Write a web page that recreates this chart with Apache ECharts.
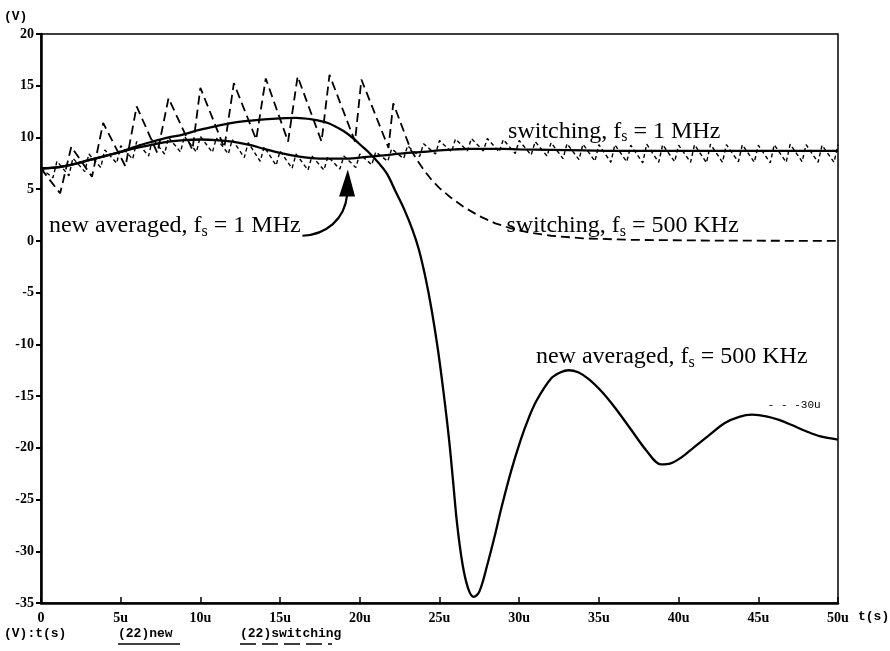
<!DOCTYPE html>
<html>
<head>
<meta charset="utf-8">
<script src="https://cdn.jsdelivr.net/npm/echarts@6/dist/echarts.min.js"></script>
<style>
  html, body { margin: 0; padding: 0; background: #fff; }
  #c { width: 890px; height: 651px; }
</style>
</head>
<body>
<div id="c"></div>
<script>
// Time in microseconds, voltage in volts.
const xTickLabels = ['0', '5u', '10u', '15u', '20u', '25u', '30u', '35u', '40u', '45u', '50u'];
const yTickLabels = ['20', '15', '10', '5', '0', '-5', '-10', '-15', '-20', '-25', '-30', '-35'];

// new averaged model, fs = 1 MHz
const avg1Time = [0, 1, 2, 3, 4, 5, 6, 7, 8, 9, 10, 11, 12, 13, 14, 15, 16, 17, 18, 19, 20, 21, 22, 23, 24, 25, 26, 27, 28, 29, 30, 32, 34, 36, 38, 40, 42, 44, 46, 48, 50];
const avg1Volt = [7.0, 7.1, 7.4, 7.8, 8.2, 8.6, 9.0, 9.3, 9.6, 9.75, 9.8, 9.75, 9.6, 9.3, 8.9, 8.5, 8.2, 8.0, 7.95, 7.95, 8.05, 8.2, 8.35, 8.5, 8.6, 8.75, 8.85, 8.9, 8.9, 8.9, 8.85, 8.8, 8.75, 8.7, 8.7, 8.7, 8.7, 8.7, 8.7, 8.7, 8.7];

// new averaged model, fs = 500 KHz
const avg500Time = [0, 1, 2, 3, 4, 5, 6, 7, 8, 8.7, 10, 11, 12, 13, 14, 15, 16, 17, 18, 19, 19.6, 20.1, 20.6, 21.2, 21.7, 22.3, 22.8, 23.3, 23.7, 24.1, 24.5, 24.9, 25.25, 25.6, 25.85, 26.1, 26.45, 26.8, 27.15, 27.5, 28.0, 28.5, 28.9, 29.5, 30.1, 30.6, 31.1, 32.0, 32.6, 33.1, 33.7, 34.4, 35.2, 36.0, 37.0, 38.0, 38.9, 39.5, 40.2, 41.0, 41.9, 42.9, 43.8, 44.6, 45.5, 46.3, 47.1, 48.0, 48.9, 50];
const avg500Volt = [7.0, 7.1, 7.4, 7.8, 8.2, 8.6, 9.15, 9.6, 10.0, 10.2, 10.75, 11.1, 11.4, 11.6, 11.75, 11.85, 11.9, 11.75, 11.4, 10.6, 9.9, 9.2, 8.5, 7.5, 6.5, 4.6, 3.0, 1.1, -0.8, -3.4, -6.6, -10.5, -14.6, -19.2, -23.2, -27.3, -31.3, -33.6, -34.4, -33.9, -31.3, -28.3, -25.7, -22.2, -19.2, -17.1, -15.4, -13.3, -12.7, -12.5, -12.7, -13.4, -14.6, -16.1, -18.2, -20.3, -21.6, -21.5, -20.9, -19.9, -18.8, -17.6, -17.0, -16.8, -16.95, -17.3, -17.8, -18.4, -18.9, -19.2];

// switching model, fs = 500 KHz
const sw500Time = [0, 1.2, 1.9, 3.2, 3.9, 5.3, 6.0, 7.3, 8.0, 9.5, 10.0, 11.5, 12.1, 13.5, 14.1, 15.5, 16.1, 17.6, 18.1, 19.7, 20.1, 21.8, 22.1, 23.2, 23.6, 24.0, 24.5, 25.0, 25.7, 26.5, 27.5, 28.5, 29.5, 30.5, 32.0, 34.0, 37.0, 42.0, 50.0];
const sw500Volt = [7.0, 4.6, 9.1, 6.2, 11.4, 7.2, 13.0, 8.5, 13.8, 8.8, 14.8, 9.0, 15.25, 9.8, 15.7, 9.6, 15.9, 9.6, 16.05, 9.6, 15.6, 9.0, 13.3, 8.8, 7.8, 6.9, 5.9, 5.1, 4.2, 3.3, 2.4, 1.7, 1.2, 0.85, 0.5, 0.25, 0.1, 0.03, 0.0];

// switching model, fs = 1 MHz
const sw1Time = [0, 0.75, 1, 1.75, 2, 2.75, 3, 3.75, 4, 4.75, 5, 5.75, 6, 6.75, 7, 7.75, 8, 8.75, 9, 9.75, 10,
  10.75, 11, 11.75, 12, 12.75, 13, 13.75, 14, 14.75, 15, 15.75, 16, 16.75, 17, 17.75, 18, 18.75, 19, 19.75, 20,
  20.75, 21, 21.75, 22, 22.75, 23, 23.75, 24, 24.75, 25, 25.75, 26, 26.75, 27, 27.75, 28, 28.75, 29, 29.75, 30,
  30.75, 31, 31.75, 32, 32.75, 33, 33.75, 34, 34.75, 35, 35.75, 36, 36.75, 37, 37.75, 38, 38.75, 39, 39.75, 40,
  40.75, 41, 41.75, 42, 42.75, 43, 43.75, 44, 44.75, 45, 45.75, 46, 46.75, 47, 47.75, 48, 48.75, 49, 49.75, 50];
const sw1Volt = [7.0, 6.1, 7.7, 6.3, 8.0, 6.7, 8.4, 7.1, 8.8, 7.5, 9.2, 7.9, 9.6, 8.2, 9.9, 8.4, 10.0, 8.6, 10.1, 8.6, 10.1,
  8.55, 9.95, 8.4, 9.8, 8.05, 9.5, 7.7, 9.1, 7.3, 8.7, 7.0, 8.4, 6.85, 8.2, 6.85, 8.15, 6.95, 8.2, 7.1, 8.4,
  7.35, 8.6, 7.7, 8.9, 7.95, 9.2, 8.15, 9.4, 8.4, 9.7, 8.6, 9.85, 8.7, 9.9, 8.7, 9.9, 8.6, 9.8, 8.45, 9.7,
  8.3, 9.6, 8.2, 9.5, 7.95, 9.4, 7.85, 9.35, 7.7, 9.3, 7.6, 9.3, 7.65, 9.25, 7.55, 9.35, 7.6, 9.3, 7.65, 9.25,
  7.6, 9.3, 7.55, 9.35, 7.6, 9.3, 7.65, 9.3, 7.6, 9.25, 7.55, 9.3, 7.6, 9.35, 7.65, 9.3, 7.6, 9.25, 7.6, 9.3];

const pair = (ts, vs) => ts.map((t, i) => [t, vs[i]]);

const SERIF = '"Liberation Serif", "Times New Roman", serif';
const MONO = '"Liberation Mono", "DejaVu Sans Mono", monospace';
const INK = '#000';

const chart = echarts.init(document.getElementById('c'), null, { renderer: 'canvas' });

chart.setOption({
  animation: false,
  backgroundColor: '#fff',
  grid: {
    left: 41, right: 52, top: 34, bottom: 48,
    show: true, borderColor: INK, borderWidth: 1.5, backgroundColor: 'transparent'
  },
  xAxis: {
    type: 'value', min: 0, max: 50, interval: 5,
    axisLine: { show: true, onZero: false, lineStyle: { color: INK, width: 2.5 } },
    axisTick: { show: true, inside: true, length: 6, lineStyle: { color: INK, width: 1.5 } },
    axisLabel: {
      margin: 8, color: INK, fontFamily: SERIF, fontWeight: 'bold', fontSize: 14,
      formatter: v => xTickLabels[Math.round(v / 5)]
    },
    splitLine: { show: false }
  },
  yAxis: {
    type: 'value', min: -35, max: 20, interval: 5,
    axisLine: { show: true, onZero: false, lineStyle: { color: INK, width: 2.5 } },
    axisTick: { show: true, inside: false, length: 5, lineStyle: { color: INK, width: 2 } },
    axisLabel: {
      margin: 7, color: INK, fontFamily: SERIF, fontWeight: 'bold', fontSize: 14,
      formatter: v => yTickLabels[Math.round((20 - v) / 5)]
    },
    splitLine: { show: false }
  },
  series: [
    {
      name: 'switching 1 MHz', type: 'line', data: pair(sw1Time, sw1Volt),
      showSymbol: false, smooth: false, z: 2,
      lineStyle: { color: INK, width: 1.4, type: [4, 3] }
    },
    {
      name: 'switching 500 KHz', type: 'line', data: pair(sw500Time, sw500Volt),
      showSymbol: false, smooth: false, z: 3,
      lineStyle: { color: INK, width: 1.8, type: [9, 5] }
    },
    {
      name: 'new averaged 1 MHz', type: 'line', data: pair(avg1Time, avg1Volt),
      showSymbol: false, smooth: 0.4, z: 4,
      lineStyle: { color: INK, width: 2.3 }
    },
    {
      name: 'new averaged 500 KHz', type: 'line', data: pair(avg500Time, avg500Volt),
      showSymbol: false, smooth: 0.35, z: 4,
      lineStyle: { color: INK, width: 2.3 }
    }
  ]
});

// Annotations, anchored in data units (t in us, V in volts).
const toPx = (t, v) => chart.convertToPixel({ gridIndex: 0 }, [t, v]);

function label(prefix, suffix, t, v) {
  const p = toPx(t, v);
  return {
    type: 'text', x: p[0], y: p[1], z: 50,
    style: {
      text: '{a|' + prefix + '}{s|s}{a|' + suffix + '}',
      align: 'left', verticalAlign: 'middle', textAlign: 'left', textVerticalAlign: 'middle',
      rich: {
        a: { fontFamily: SERIF, fontSize: 24, fill: INK, color: INK, lineHeight: 28, verticalAlign: 'middle' },
        s: { fontFamily: SERIF, fontSize: 16, fill: INK, color: INK, lineHeight: 16, verticalAlign: 'bottom' }
      }
    }
  };
}

function plainText(str, x, y, font, align) {
  return {
    type: 'text', x: x, y: y, z: 50,
    style: {
      text: str, font: font, fill: INK,
      align: align || 'left', verticalAlign: 'middle',
      textAlign: align || 'left', textVerticalAlign: 'middle'
    }
  };
}

const arrowTip = toPx(19.25, 6.9);
const arrowBase = toPx(19.2, 4.4);
const curveStart = toPx(16.4, 0.5);
const curveC1 = toPx(17.9, 0.6);
const curveC2 = toPx(19.05, 2.1);

const origin = toPx(0, -35);
const xEnd = toPx(50, -35);
const yTop = toPx(0, 20);
const monoBold = 'bold 13px ' + MONO;
const probe = toPx(45.6, -15.9);

chart.setOption({
  graphic: [
    label('switching, f', ' = 1 MHz', 29.3, 10.6),
    label('switching, f', ' = 500 KHz', 29.2, 1.5),
    label('new averaged, f', ' = 1 MHz', 0.5, 1.45),
    label('new averaged, f', ' = 500 KHz', 31.05, -11.2),
    // pointer from the 1 MHz label to the averaged curve
    {
      type: 'bezierCurve', z: 50,
      shape: {
        x1: curveStart[0], y1: curveStart[1],
        cpx1: curveC1[0], cpy1: curveC1[1],
        cpx2: curveC2[0], cpy2: curveC2[1],
        x2: arrowBase[0], y2: arrowBase[1]
      },
      style: { stroke: INK, lineWidth: 2.2, fill: null }
    },
    {
      type: 'polygon', z: 50,
      shape: { points: [[arrowTip[0], arrowTip[1]], [arrowBase[0] - 8, arrowBase[1] + 1], [arrowBase[0] + 8, arrowBase[1] + 1]] },
      style: { fill: INK }
    },
    // leftover probe marker text on the trace
    plainText('- - -30u', probe[0], probe[1], '11px ' + MONO),
    // axis captions and trace legend
    plainText('(V)', 4, yTop[1] - 17, monoBold),
    plainText('t(s)', xEnd[0] + 20, origin[1] + 14, monoBold),
    plainText('(V):t(s)', 4, origin[1] + 31, monoBold),
    plainText('(22)new', 118, origin[1] + 31, monoBold),
    plainText('(22)switching', 240, origin[1] + 31, monoBold),
    {
      type: 'line', z: 50,
      shape: { x1: 118, y1: origin[1] + 41, x2: 180, y2: origin[1] + 41 },
      style: { stroke: INK, lineWidth: 1.5 }
    },
    {
      type: 'line', z: 50,
      shape: { x1: 240, y1: origin[1] + 41, x2: 332, y2: origin[1] + 41 },
      style: { stroke: INK, lineWidth: 1.5, lineDash: [16, 6] }
    }
  ]
});
</script>
</body>
</html>
